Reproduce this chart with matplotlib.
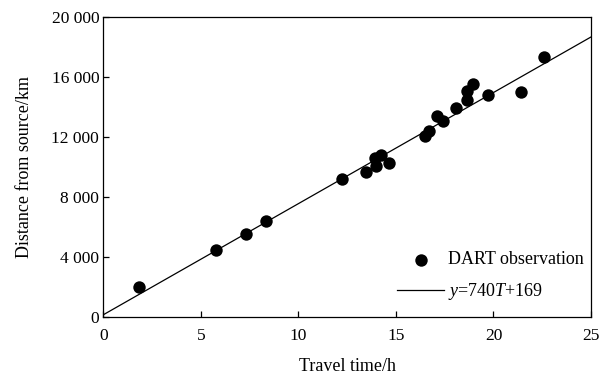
import numpy as np
import matplotlib.pyplot as plt
from matplotlib.ticker import FuncFormatter, MultipleLocator

plt.rcParams['font.family'] = ['Liberation Serif', 'DejaVu Serif']
plt.rcParams['mathtext.fontset'] = 'custom'
plt.rcParams['mathtext.rm'] = 'Liberation Serif'
plt.rcParams['mathtext.it'] = 'Liberation Serif:italic'

# --- DART observations (travel time in h, distance in km) ---
travel_time = [1.85, 5.8, 7.3, 8.35, 12.25, 13.45, 14.0, 13.95, 14.25, 14.65,
               16.5, 16.7, 17.1, 17.4, 18.1, 18.65, 18.65, 18.95, 19.7, 21.4, 22.6]
distance = [2000, 4490, 5550, 6440, 9200, 9670, 10080, 10600, 10780, 10300,
            12060, 12420, 13440, 13100, 13970, 14450, 15060, 15530, 14800, 15020, 17330]

# fitted line y = 740 T + 169
slope = 740
intercept = 169
fit_label = r'$y$=740$T$+169'

fig = plt.figure(figsize=(6.02, 3.83), dpi=100)
ax = fig.add_axes([0.1716, 0.1715, 0.8101, 0.7841])

t = np.array([0, 25])
ax.scatter(travel_time, distance, s=80, color='black', zorder=3,
           label='DART observation', linewidths=0)
ax.plot(t, slope * t + intercept, color='black', lw=0.9, label=fit_label)

ax.set_xlim(0, 25)
ax.set_ylim(0, 20000)
ax.xaxis.set_major_locator(MultipleLocator(5))
ax.yaxis.set_major_locator(MultipleLocator(4000))
ax.yaxis.set_major_formatter(FuncFormatter(lambda v, p: f'{int(v):,}'.replace(',', ' ')))
ax.tick_params(direction='in', length=4, width=0.9, labelsize=12.5)
ax.tick_params(axis='x', pad=8)
ax.tick_params(axis='y', pad=3)
for s in ax.spines.values():
    s.set_linewidth(0.9)

ax.set_xlabel('Travel time/h', fontsize=13, labelpad=10)
ax.set_ylabel('Distance from source/km', fontsize=13, labelpad=13)

ax.legend(loc='lower right', bbox_to_anchor=(0.985, 0.05), frameon=False,
          fontsize=13, handlelength=2.6, handletextpad=0.2, labelspacing=0.72,
          borderaxespad=0, borderpad=0)

fig.savefig('out.png', dpi=100)
